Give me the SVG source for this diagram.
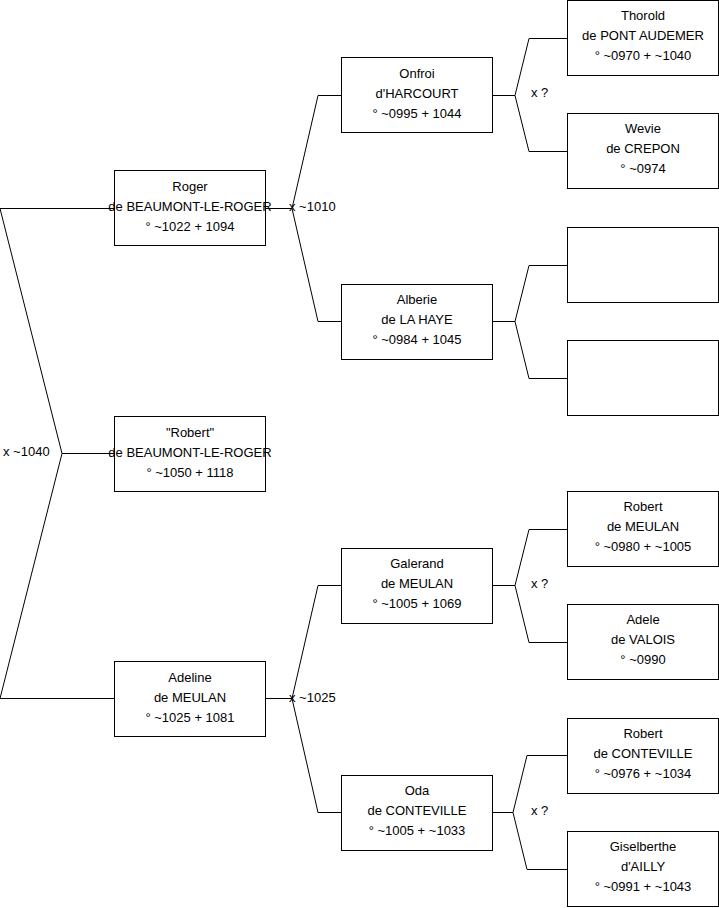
<svg xmlns="http://www.w3.org/2000/svg" width="719" height="908" viewBox="0 0 719 908">
<style>
.b{fill:#fff;stroke:#000;stroke-width:1}
.c{fill:none;stroke:#000;stroke-width:1}
text{font-family:"Liberation Sans",Arial,sans-serif;font-size:13px;fill:#000}
.m{text-anchor:middle}
</style>
<rect width="719" height="908" fill="#fff"/>
<g id="connectors">
<polyline class="c" points="114,208.5 0,208.5 62,453.5 0,698.5 114,698.5"/>
<polyline class="c" points="62,453.5 114,453.5"/>
<polyline class="c" points="265,208.5 292,208.5"/>
<polyline class="c" points="341,95.5 318,95.5 292,208.5 318,321.5 341,321.5"/>
<polyline class="c" points="265,698.5 292,698.5"/>
<polyline class="c" points="341,585.5 318,585.5 292,698.5 318,812.5 341,812.5"/>
<polyline class="c" points="492,95.5 515,95.5"/>
<polyline class="c" points="567,38.5 529,38.5 515,95.5 529,151.5 567,151.5"/>
<polyline class="c" points="492,321.5 515,321.5"/>
<polyline class="c" points="567,265.5 529,265.5 515,321.5 529,378.5 567,378.5"/>
<polyline class="c" points="492,585.5 515,585.5"/>
<polyline class="c" points="567,529.5 529,529.5 515,585.5 529,642.5 567,642.5"/>
<polyline class="c" points="492,812.5 513,812.5"/>
<polyline class="c" points="567,755.5 527,755.5 513,812.5 527,869.5 567,869.5"/>
<text x="3" y="456">x ~1040</text>
<text x="289" y="211">x ~1010</text>
<text x="289" y="702">x ~1025</text>
<text x="531" y="97">x ?</text>
<text x="531" y="588">x ?</text>
<text x="531" y="815">x ?</text>
</g>
<g id="roger">
<rect class="b" x="114.5" y="170.5" width="151" height="75"/>
<text class="m" x="190" y="191">Roger</text>
<text class="m" x="190" y="211">de BEAUMONT-LE-ROGER</text>
<text class="m" x="190" y="231">° ~1022 + 1094</text>
</g>
<g id="robert">
<rect class="b" x="114.5" y="416.5" width="151" height="75"/>
<text class="m" x="190" y="437">"Robert"</text>
<text class="m" x="190" y="457">de BEAUMONT-LE-ROGER</text>
<text class="m" x="190" y="477">° ~1050 + 1118</text>
</g>
<g id="adeline">
<rect class="b" x="114.5" y="661.5" width="151" height="75"/>
<text class="m" x="190" y="682">Adeline</text>
<text class="m" x="190" y="702">de MEULAN</text>
<text class="m" x="190" y="722">° ~1025 + 1081</text>
</g>
<g id="onfroi">
<rect class="b" x="341.5" y="57.5" width="151" height="75"/>
<text class="m" x="417" y="78">Onfroi</text>
<text class="m" x="417" y="98">d'HARCOURT</text>
<text class="m" x="417" y="118">° ~0995 + 1044</text>
</g>
<g id="alberie">
<rect class="b" x="341.5" y="284.5" width="151" height="75"/>
<text class="m" x="417" y="304">Alberie</text>
<text class="m" x="417" y="324">de LA HAYE</text>
<text class="m" x="417" y="344">° ~0984 + 1045</text>
</g>
<g id="galerand">
<rect class="b" x="341.5" y="548.5" width="151" height="75"/>
<text class="m" x="417" y="568">Galerand</text>
<text class="m" x="417" y="588">de MEULAN</text>
<text class="m" x="417" y="608">° ~1005 + 1069</text>
</g>
<g id="oda">
<rect class="b" x="341.5" y="775.5" width="151" height="75"/>
<text class="m" x="417" y="795">Oda</text>
<text class="m" x="417" y="815">de CONTEVILLE</text>
<text class="m" x="417" y="835">° ~1005 + ~1033</text>
</g>
<g id="thorold">
<rect class="b" x="567.5" y="0.5" width="151" height="75"/>
<text class="m" x="643" y="20">Thorold</text>
<text class="m" x="643" y="40">de PONT AUDEMER</text>
<text class="m" x="643" y="60">° ~0970 + ~1040</text>
</g>
<g id="wevie">
<rect class="b" x="567.5" y="113.5" width="151" height="75"/>
<text class="m" x="643" y="133">Wevie</text>
<text class="m" x="643" y="153">de CREPON</text>
<text class="m" x="643" y="173">° ~0974</text>
</g>
<g id="empty1">
<rect class="b" x="567.5" y="227.5" width="151" height="75"/>
</g>
<g id="empty2">
<rect class="b" x="567.5" y="340.5" width="151" height="75"/>
</g>
<g id="robert-meulan">
<rect class="b" x="567.5" y="491.5" width="151" height="75"/>
<text class="m" x="643" y="511">Robert</text>
<text class="m" x="643" y="531">de MEULAN</text>
<text class="m" x="643" y="551">° ~0980 + ~1005</text>
</g>
<g id="adele">
<rect class="b" x="567.5" y="604.5" width="151" height="75"/>
<text class="m" x="643" y="624">Adele</text>
<text class="m" x="643" y="644">de VALOIS</text>
<text class="m" x="643" y="664">° ~0990</text>
</g>
<g id="robert-conteville">
<rect class="b" x="567.5" y="718.5" width="151" height="75"/>
<text class="m" x="643" y="738">Robert</text>
<text class="m" x="643" y="758">de CONTEVILLE</text>
<text class="m" x="643" y="778">° ~0976 + ~1034</text>
</g>
<g id="giselberthe">
<rect class="b" x="567.5" y="831.5" width="151" height="75"/>
<text class="m" x="643" y="851">Giselberthe</text>
<text class="m" x="643" y="871">d'AILLY</text>
<text class="m" x="643" y="891">° ~0991 + ~1043</text>
</g>
</svg>
